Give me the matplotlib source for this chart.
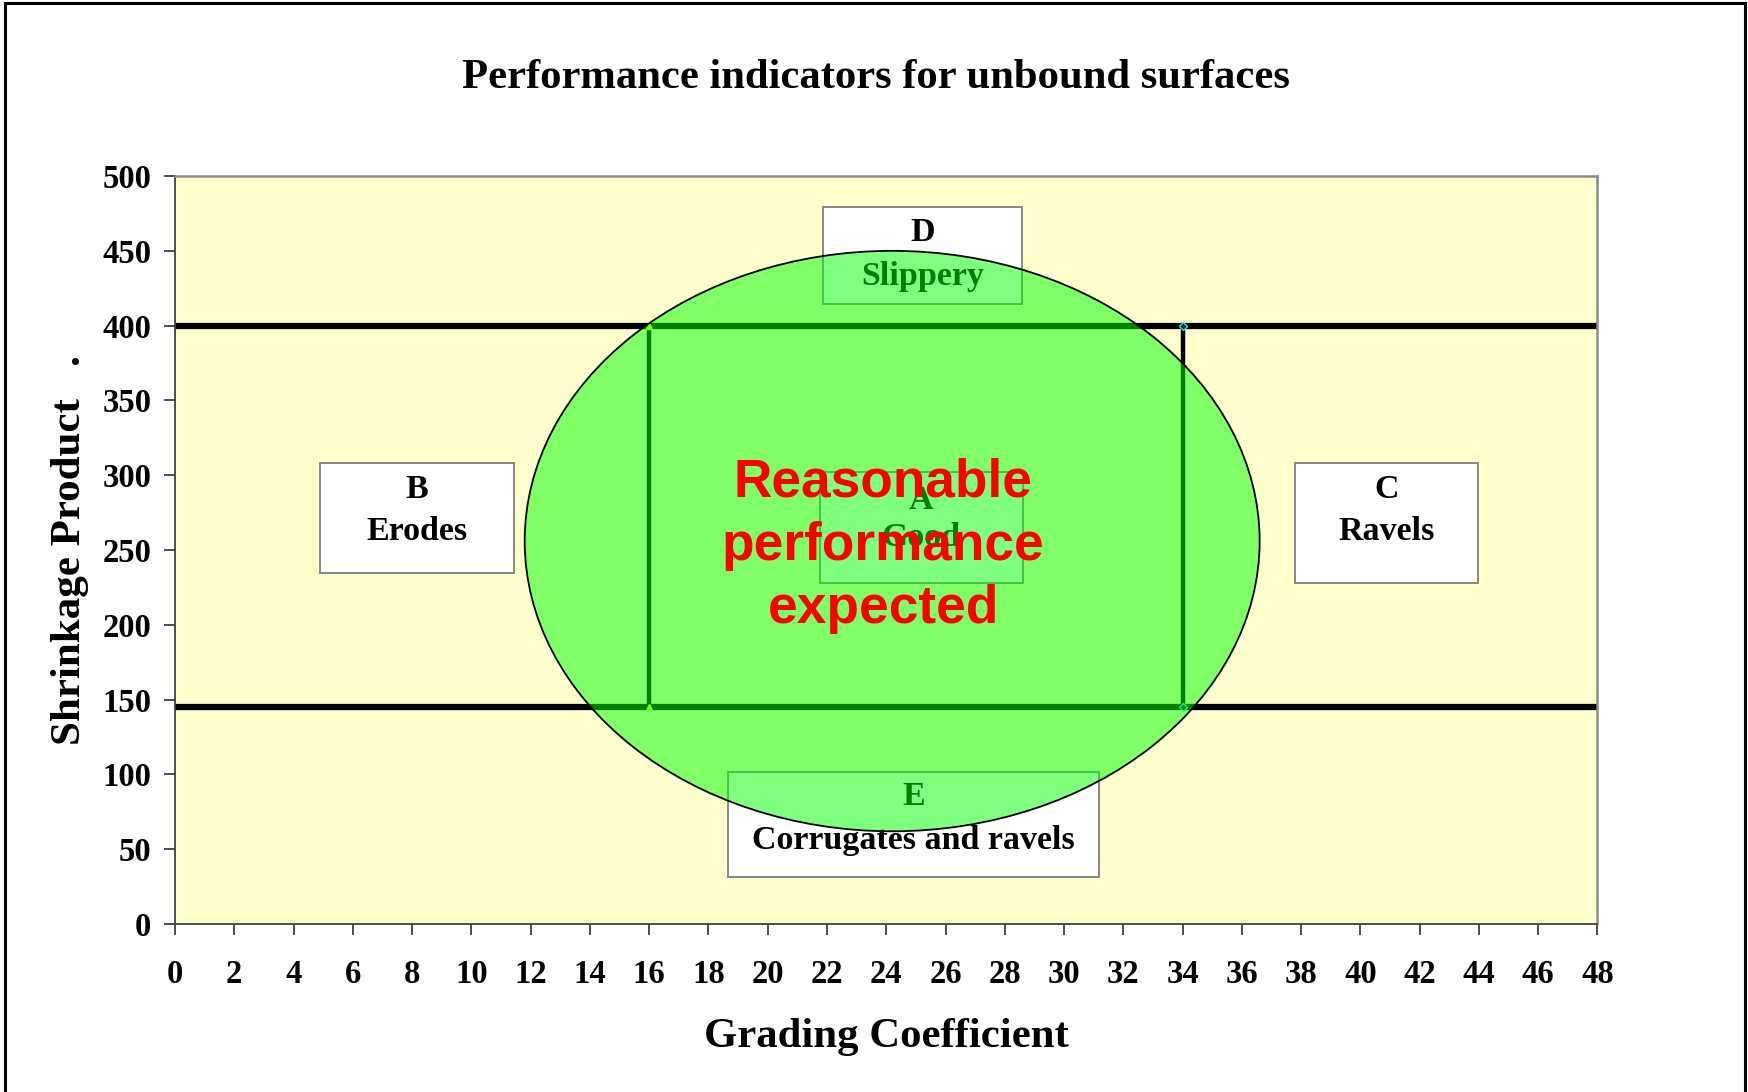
# Performance indicators for unbound surfaces
import matplotlib
matplotlib.use("Agg")
import matplotlib.pyplot as plt
from matplotlib.patches import Ellipse, Rectangle
from matplotlib.lines import Line2D

# Data
grading_limits = [16, 34]          # grading coefficient bounds of zone A
shrinkage_limits = [145, 400]      # shrinkage product bounds of zone A
x_range = [0, 48]
y_range = [0, 500]
x_ticks = list(range(0, 49, 2))
y_ticks = list(range(0, 501, 50))
zone_codes = ["D", "B", "A", "C", "E"]
zone_names = ["Slippery", "Erodes", "Good", "Ravels", "Corrugates and ravels"]
ellipse_centre = (24.2, 256)
ellipse_size = (24.8, 388)

serif = "Liberation Serif"
sans = "Liberation Sans"

fig = plt.figure(figsize=(17.48, 10.92), dpi=100)
ax = fig.add_axes([0.1001, 0.1538, 0.8138, 0.685])
ax.set_facecolor("#FFFFCC")
ax.set_xlim(x_range)
ax.set_ylim(y_range)

# Horizontal limits across the whole chart
for y in shrinkage_limits:
    ax.plot(x_range, [y, y], color="black", lw=4.5, zorder=2, solid_capstyle="butt")

# Vertical limits between the two horizontal lines
ax.plot([grading_limits[0]] * 2, shrinkage_limits, color="black", lw=3.2, zorder=2,
        marker="^", ms=5, mfc="#FFFF00", mec="#FFFF00")
ax.plot([grading_limits[1]] * 2, shrinkage_limits, color="black", lw=3.2, zorder=2,
        marker="D", ms=4, mfc="none", mec="#00FFFF", mew=1)

# Zone boxes: (x0, y0, x1, y1), y of code, y of name
boxes = [
    (21.86, 414.3, 28.59, 479.2, 462.5, 433),
    (4.89, 234.7, 11.44, 308.5, 290.5, 262.3),
    (21.76, 228, 28.6, 302, 283, 258.5),
    (37.8, 228, 43.98, 308.5, 290.5, 262.3),
    (18.65, 31.6, 31.18, 101.8, 85.1, 56),
]
for (x0, y0, x1, y1, yc, yn), code, name in zip(boxes, zone_codes, zone_names):
    ax.add_patch(Rectangle((x0, y0), x1 - x0, y1 - y0, facecolor="white",
                           edgecolor="#7f7f7f", lw=1.3, zorder=3))
    xm = (x0 + x1) / 2
    ax.text(xm, yc, code, ha="center", va="center", fontsize=24.5,
            fontweight="bold", family=serif, zorder=3.5)
    ax.text(xm, yn, name, ha="center", va="center", fontsize=24.5,
            fontweight="bold", family=serif, zorder=3.5)

# Green ellipse of reasonable performance
ax.add_patch(Ellipse(ellipse_centre, ellipse_size[0], ellipse_size[1],
                     facecolor=(0, 1, 0, 0.5), edgecolor="black", lw=1.3, zorder=4))

ax.text(23.9, 252.8, "Reasonable\nperformance\nexpected", ha="center", va="center",
        color="#FF0000", fontsize=38.3, fontweight="bold", family=sans,
        linespacing=1.33, zorder=5)

# Axes styling
ax.set_xticks(x_ticks)
ax.set_yticks(y_ticks)
ax.tick_params(axis="both", direction="out", length=8, width=1.3, color="#404040",
               labelsize=23.5)
ax.tick_params(axis="x", pad=17)
ax.tick_params(axis="y", pad=9)
for lab in ax.get_xticklabels() + ax.get_yticklabels():
    lab.set_family(serif)
    lab.set_fontweight("bold")
for s in ["left", "bottom"]:
    ax.spines[s].set_color("#404040")
    ax.spines[s].set_linewidth(1.3)
for s in ["top", "right"]:
    ax.spines[s].set_color("#8c8c8c")
    ax.spines[s].set_linewidth(1.8)

ax.set_xlabel("Grading Coefficient", fontsize=30.8, fontweight="bold", family=serif,
              labelpad=20.5)
fig.text(0.040, 0.496, "Shrinkage Product   .", rotation=90, ha="center", va="center",
         fontsize=31, fontweight="bold", family=serif)
fig.text(0.5013, 0.929, "Performance indicators for unbound surfaces", ha="center",
         va="center", fontsize=30.7, fontweight="bold", family=serif)

# Outer frame (bottom edge falls outside the picture)
for xs, ys in [([0.003, 0.003], [0, 0.997]), ([0.003, 0.9985], [0.997, 0.997]),
               ([0.9985, 0.9985], [0.997, 0])]:
    fig.add_artist(Line2D(xs, ys, color="black", lw=2.2, transform=fig.transFigure))

fig.savefig("out.png", dpi=100)
